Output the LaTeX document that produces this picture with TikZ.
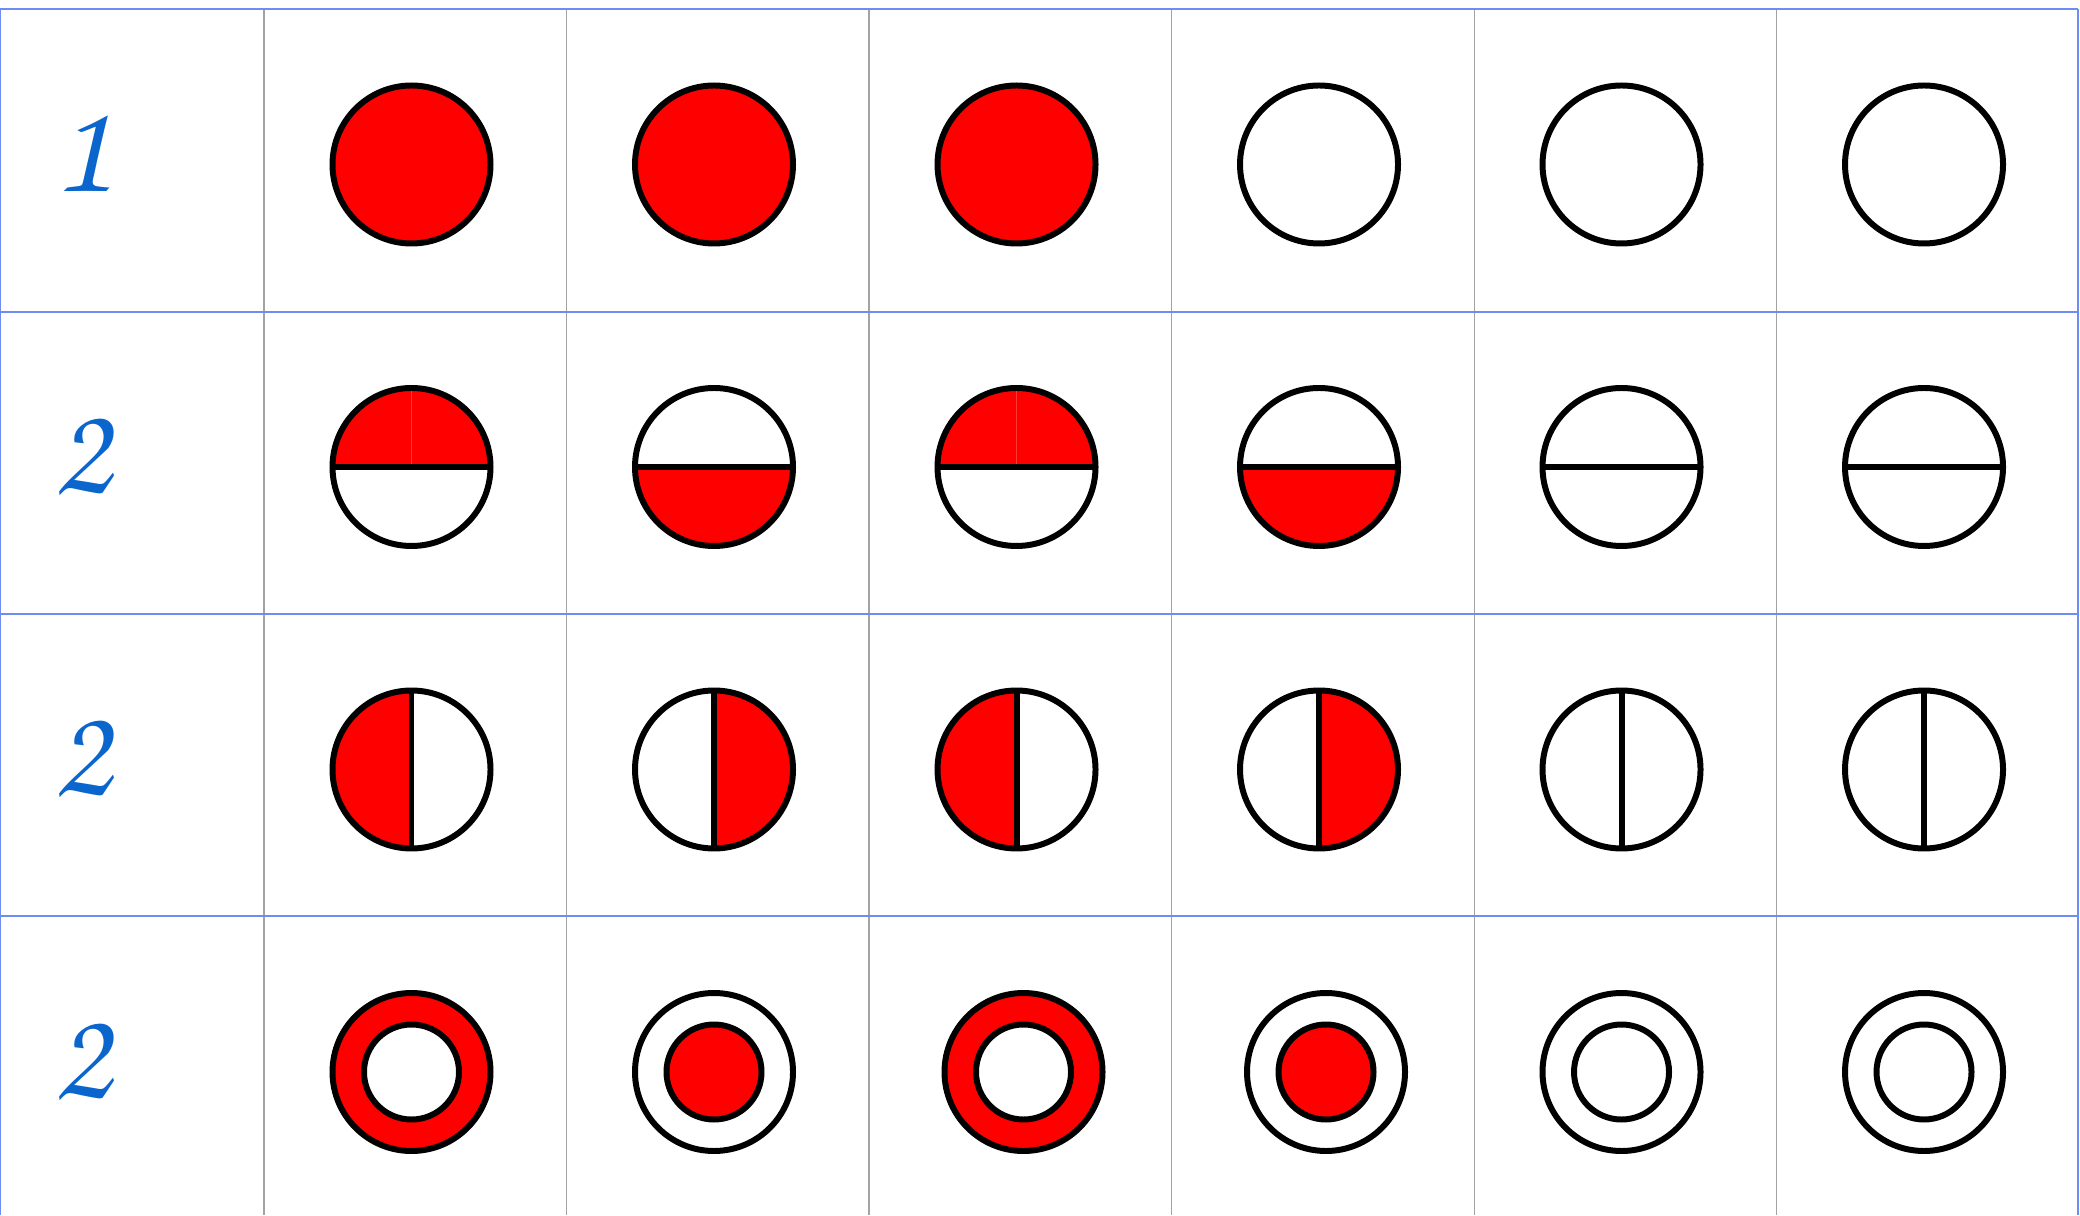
\documentclass[tikz,border=0pt]{standalone}
\usepackage[T1,TU]{fontenc}
\usepackage{tikz}
\usetikzlibrary{positioning}
\definecolor{gridblue}{HTML}{6F8CF2}
\definecolor{gridgray}{HTML}{A3A3A3}
\definecolor{labelblue}{HTML}{0A66CC}
\newcommand{\chanc}{\usefont{T1}{pzc}{mb}{it}}

\begin{document}
\begin{tikzpicture}[
      x=0.01cm, y=0.01cm,
      rim/.style={draw=black, line width=1.7pt},
      hline/.style={draw=gridblue, line width=0.4pt},
      vline/.style={draw=gridgray, line width=0.3pt},
      rowlabel/.style={text=labelblue, inner sep=0pt, font=\chanc\fontsize{37}{40}\selectfont}
    ]
      \useasboundingbox (0,0) rectangle (2080,1215);
      \clip (0,0) rectangle (2080,1215);
      % grid
      \foreach \x in {264,566.5,869,1171.5,1474,1776.5}
        \draw[vline] (\x,0) -- (\x,1206);
      \foreach \y in {1206,903,601,299}
        \draw[hline] (0,\y) -- (2078,\y);
      \draw[hline] (0.5,0) -- (0.5,1206);
      \draw[hline, line width=0.6pt] (2078,0) -- (2078,1206);
      % row labels
      \node[rowlabel] (one) at (82,1063) {1};
      \node[rowlabel] (twoa) at (82,761) {2};
      \node[rowlabel] (twob) at (82,459) {2};
      \node[rowlabel] (twoc) at (82,156) {2};
      % row 1: whole
      \foreach \x in {411.5,714,1016.5}
        \draw[rim, fill=red] (\x,1050.5) circle (79);
      \foreach \x in {1319,1621.5,1924}
        \draw[rim] (\x,1050.5) circle (79);
      % row 2: top / bottom halves
      \foreach \x in {411.5,1016.5} {
        \fill[red] (\x,748) -- ++(79,0) arc (0:90:79) -- cycle;
        \fill[red] (\x,748) -- ++(0,79) arc (90:180:79) -- cycle;
      }
      \foreach \x in {714} {
        \fill[red] (\x,748) ++(-79,0) arc (180:360:79) -- cycle;
      }
      \foreach \x in {1319} {
        \fill[red] (\x,748) -- ++(-79,0) arc (180:270:79) -- cycle;
        \fill[red] (\x,748) -- ++(0,-79) arc (270:360:79) -- cycle;
      }
      \foreach \x in {411.5,714,1016.5,1319,1621.5,1924} {
        \draw[rim] (\x,748) circle (79);
        \draw[rim] ({\x-79},748) -- ({\x+79},748);
      }
      % row 3: left / right halves
      \foreach \x in {411.5,1016.5}
        \fill[red] (\x,445.5) ++(0,79) arc (90:270:79) -- cycle;
      \foreach \x in {714,1319}
        \fill[red] (\x,445.5) ++(0,-79) arc (-90:90:79) -- cycle;
      \foreach \x in {411.5,714,1016.5,1319,1621.5,1924} {
        \draw[rim] (\x,445.5) circle (79);
        \draw[rim] (\x,366.5) -- (\x,524.5);
      }
      % row 4: ring / core
      \foreach \x in {411.5,1023.5}
        \fill[red, even odd rule] (\x,143) circle (79) (\x,143) circle (47.5);
      \foreach \x in {714,1326}
        \fill[red] (\x,143) circle (47.5);
      \foreach \x in {411.5,714,1023.5,1326,1621.5,1924} {
        \draw[rim] (\x,143) circle (79);
        \draw[rim] (\x,143) circle (47.5);
      }
    \end{tikzpicture}
\end{document}
